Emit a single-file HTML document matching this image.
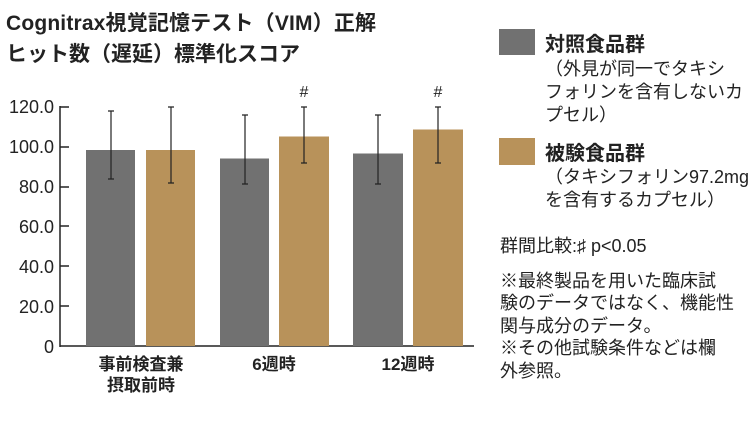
<!DOCTYPE html>
<html><head><meta charset="utf-8"><style>
body{margin:0;background:#fff;}
svg text{font-family:"Liberation Sans","Noto Sans CJK JP",sans-serif;fill:#222;}
</style></head><body>
<svg width="750" height="419" viewBox="0 0 750 419" xmlns="http://www.w3.org/2000/svg">
<text x="6" y="30" font-size="21" font-weight="bold" textLength="370">Cognitrax視覚記憶テスト（VIM）正解</text>
<text x="6" y="61" font-size="21" font-weight="bold">ヒット数（遅延）標準化スコア</text>
<g font-size="18" text-anchor="end">
<text x="54" y="113">120.0</text><text x="54" y="153">100.0</text><text x="54" y="193">80.0</text>
<text x="54" y="233">60.0</text><text x="54" y="273">40.0</text><text x="54" y="313">20.0</text><text x="54" y="353">0</text>
</g>
<g stroke="#222" stroke-width="1.5">
<line x1="60" y1="106" x2="60" y2="347"/>
<line x1="60" y1="346" x2="474" y2="346"/>
<line x1="60" y1="107" x2="69" y2="107"/><line x1="60" y1="147" x2="69" y2="147"/><line x1="60" y1="187" x2="69" y2="187"/>
<line x1="60" y1="226" x2="69" y2="226"/><line x1="60" y1="266" x2="69" y2="266"/><line x1="60" y1="306" x2="69" y2="306"/>
</g>
<g fill="#717171"><rect x="86" y="150" width="49" height="196"/><rect x="220" y="158.5" width="49" height="187.5"/><rect x="353" y="153.5" width="50" height="192.5"/></g>
<g fill="#b8925a"><rect x="146" y="150" width="49" height="196"/><rect x="279" y="136.5" width="50" height="209.5"/><rect x="413" y="129.5" width="50" height="216.5"/></g>
<g stroke="#222" stroke-width="1.2">
<path d="M111 111V179M108 111H114M108 179H114"/>
<path d="M171 107V183M168 107H174M168 183H174"/>
<path d="M245 115V184M242 115H248M242 184H248"/>
<path d="M304 107V163M301 107H307M301 163H307"/>
<path d="M378 115V184M375 115H381M375 184H381"/>
<path d="M438 107V163M435 107H441M435 163H441"/>
</g>
<g font-size="16" text-anchor="middle"><text x="304" y="97">#</text><text x="438" y="97">#</text></g>
<g font-size="17" font-weight="bold" text-anchor="middle">
<text x="141" y="370">事前検査兼</text><text x="141" y="391">摂取前時</text>
<text x="274" y="370">6週時</text><text x="408" y="370">12週時</text>
</g>
<rect x="499" y="29" width="36" height="26" fill="#717171"/>
<rect x="499" y="138" width="36" height="27" fill="#b8925a"/>
<text x="545" y="51" font-size="20" font-weight="bold">対照食品群</text>
<text x="545" y="160" font-size="20" font-weight="bold">被験食品群</text>
<g font-size="18">
<text x="545" y="75">（外見が同一でタキシ</text>
<text x="545" y="98">フォリンを含有しないカ</text>
<text x="545" y="121">プセル）</text>
<text x="545" y="183">（タキシフォリン97.2mg</text>
<text x="545" y="206">を含有するカプセル）</text>
<text x="500" y="252">群間比較:♯ p&lt;0.05</text>
<text x="500" y="287">※最終製品を用いた臨床試</text>
<text x="500" y="309">験のデータではなく、機能性</text>
<text x="500" y="332">関与成分のデータ。</text>
<text x="500" y="354">※その他試験条件などは欄</text>
<text x="500" y="377">外参照。</text>
</g>
</svg>
</body></html>
